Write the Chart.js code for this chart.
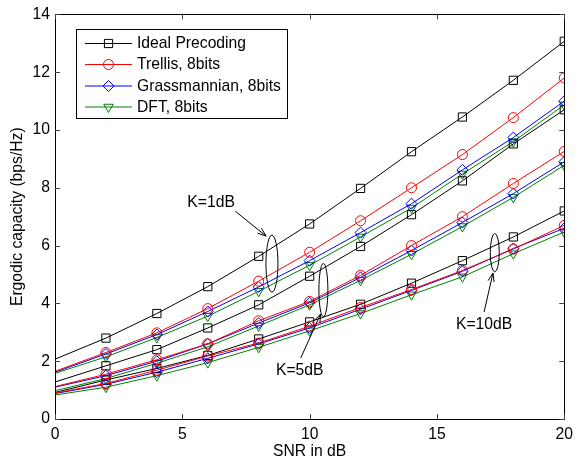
<!DOCTYPE html>
<html>
<head>
<meta charset="utf-8">
<script src="https://cdn.jsdelivr.net/npm/chart.js@4"></script>
<style>
  html, body { margin: 0; padding: 0; background: #fff; }
  #wrap { width: 579px; height: 461px; }
</style>
</head>
<body>
<div id="wrap"><canvas id="chart"></canvas></div>
<script>
const snr = [0, 2, 4, 6, 8, 10, 12, 14, 16, 18, 20];

// K = 1dB
const idealK1 = [2.07, 2.8, 3.65, 4.58, 5.63, 6.75, 7.98, 9.25, 10.45, 11.72, 13.07];
const trellisK1 = [1.65, 2.3, 2.98, 3.82, 4.77, 5.77, 6.86, 8.0, 9.15, 10.43, 11.8];
const grassK1 = [1.62, 2.25, 2.92, 3.72, 4.57, 5.48, 6.45, 7.45, 8.62, 9.74, 11.0];
const dftK1 = [1.58, 2.15, 2.82, 3.56, 4.42, 5.32, 6.3, 7.3, 8.48, 9.6, 10.87];
// K = 5dB
const idealK5 = [1.28, 1.84, 2.4, 3.15, 3.95, 4.94, 5.97, 7.07, 8.24, 9.52, 10.7];
const trellisK5 = [1.12, 1.55, 2.05, 2.6, 3.4, 4.07, 4.97, 6.0, 7.0, 8.15, 9.26];
const grassK5 = [1.1, 1.5, 2.0, 2.6, 3.32, 4.02, 4.9, 5.83, 6.8, 7.8, 8.9];
const dftK5 = [0.98, 1.4, 1.93, 2.5, 3.22, 3.95, 4.8, 5.7, 6.66, 7.67, 8.78];
// K = 10dB
const idealK10 = [0.92, 1.35, 1.75, 2.2, 2.77, 3.36, 3.97, 4.7, 5.48, 6.3, 7.2];
const trellisK10 = [0.9, 1.23, 1.69, 2.18, 2.63, 3.21, 3.86, 4.48, 5.14, 5.88, 6.7];
const grassK10 = [0.88, 1.2, 1.62, 2.1, 2.6, 3.15, 3.8, 4.45, 5.11, 5.9, 6.6];
const dftK10 = [0.83, 1.1, 1.5, 1.95, 2.48, 3.05, 3.65, 4.3, 4.92, 5.72, 6.47];

const xTicks = [0, 5, 10, 15, 20];
const yTicks = [0, 2, 4, 6, 8, 10, 12, 14];

const labels = ["Ideal Precoding", "Trellis, 8bits", "Grassmannian, 8bits", "DFT, 8bits"];
const FONT = "'Liberation Sans', Arial, Helvetica, sans-serif";
const FS = 15.7;

const styles = [
  { color: "#000000", pointStyle: "rect", radius: 5.8, rotation: 0 },
  { color: "#ff0000", pointStyle: "circle", radius: 5, rotation: 0 },
  { color: "#0000ff", pointStyle: "rectRot", radius: 5.5, rotation: 0 },
  { color: "#008000", pointStyle: "triangle", radius: 5.5, rotation: 180 },
];

const groups = [
  [idealK1, trellisK1, grassK1, dftK1],
  [idealK5, trellisK5, grassK5, dftK5],
  [idealK10, trellisK10, grassK10, dftK10],
];

const datasets = [];
groups.forEach((g) => {
  g.forEach((vals, i) => {
    const s = styles[i];
    datasets.push({
      label: labels[i],
      data: snr.map((x, j) => ({ x: x, y: vals[j] })),
      borderColor: s.color,
      backgroundColor: "rgba(0,0,0,0)",
      borderWidth: 1,
      pointStyle: s.pointStyle,
      pointRotation: s.rotation,
      pointBorderColor: s.color,
      pointBorderWidth: 1,
      pointRadius: (c) => (c.raw && c.raw.x === 0 ? 0 : s.radius),
      tension: 0,
      order: [2, 0, 1, 3][i],
    });
  });
});

// annotations in data units
const notes = [
  { text: "K=1dB", tx: 6.13, ty: 7.47, ax0: 7.08, ay0: 7.19, ax1: 8.29, ay1: 6.33, ex: 8.52, ey: 5.375, rx: 6, ry: 28.5 },
  { text: "K=5dB", tx: 9.61, ty: 1.66, ax0: 9.65, ay0: 2.11, ax1: 10.43, ay1: 3.63, ex: 10.54, ey: 4.46, rx: 4.5, ry: 26.7 },
  { text: "K=10dB", tx: 16.85, ty: 3.28, ax0: 16.85, ay0: 3.7, ax1: 17.2, ay1: 5.05, ex: 17.27, ey: 5.755, rx: 4.5, ry: 19.2 },
];

function arrow(ctx, x0, y0, x1, y1) {
  ctx.beginPath();
  ctx.moveTo(x0, y0);
  ctx.lineTo(x1, y1);
  const a = Math.atan2(y1 - y0, x1 - x0);
  const L = 9, w = 0.35;
  ctx.moveTo(x1 - L * Math.cos(a - w), y1 - L * Math.sin(a - w));
  ctx.lineTo(x1, y1);
  ctx.lineTo(x1 - L * Math.cos(a + w), y1 - L * Math.sin(a + w));
  ctx.stroke();
}

const decor = {
  id: "decor",
  afterDatasetsDraw(chart) {
    const { ctx, chartArea: ca, scales } = chart;
    const sx = scales.x, sy = scales.y;
    ctx.save();
    // frame
    ctx.strokeStyle = "#000";
    ctx.lineWidth = 1;
    ctx.strokeRect(Math.round(ca.left) + 0.5, Math.round(ca.top) + 0.5,
      Math.round(ca.right - ca.left), Math.round(ca.bottom - ca.top));
    // inward ticks
    ctx.strokeStyle = "#444";
    ctx.beginPath();
    xTicks.forEach((v) => {
      const p = Math.round(sx.getPixelForValue(v)) + 0.5;
      ctx.moveTo(p, ca.bottom); ctx.lineTo(p, ca.bottom - 5);
      ctx.moveTo(p, ca.top); ctx.lineTo(p, ca.top + 5);
    });
    yTicks.forEach((v) => {
      const p = Math.round(sy.getPixelForValue(v)) + 0.5;
      ctx.moveTo(ca.left, p); ctx.lineTo(ca.left + 5, p);
      ctx.moveTo(ca.right, p); ctx.lineTo(ca.right - 5, p);
    });
    ctx.stroke();

    // annotations
    ctx.strokeStyle = "#000";
    ctx.fillStyle = "#000";
    ctx.font = FS + "px " + FONT;
    ctx.textAlign = "center";
    ctx.textBaseline = "middle";
    notes.forEach((n) => {
      ctx.beginPath();
      ctx.ellipse(sx.getPixelForValue(n.ex), sy.getPixelForValue(n.ey), n.rx, n.ry, 0, 0, Math.PI * 2);
      ctx.stroke();
      arrow(ctx, sx.getPixelForValue(n.ax0), sy.getPixelForValue(n.ay0),
        sx.getPixelForValue(n.ax1), sy.getPixelForValue(n.ay1));
      ctx.fillText(n.text, sx.getPixelForValue(n.tx), sy.getPixelForValue(n.ty));
    });

    // legend
    const bx = 76, by = 29, bw = 211, bh = 89;
    ctx.fillStyle = "#fff";
    ctx.fillRect(bx, by, bw, bh);
    ctx.strokeStyle = "#000";
    ctx.strokeRect(bx + 0.5, by + 0.5, bw, bh);
    const rows = [43.5, 64.5, 86, 107];
    labels.forEach((lab, i) => {
      const s = styles[i];
      const y = rows[i];
      ctx.strokeStyle = s.color;
      ctx.lineWidth = 1;
      ctx.beginPath();
      ctx.moveTo(85, y); ctx.lineTo(132, y);
      ctx.stroke();
      ctx.fillStyle = "rgba(0,0,0,0)";
      ctx.strokeStyle = s.color;
      Chart.helpers.drawPoint(ctx, {
        pointStyle: s.pointStyle, radius: s.radius, rotation: s.rotation,
        borderWidth: 1,
      }, 108.5, y);
      ctx.fillStyle = "#000";
      ctx.textAlign = "left";
      ctx.fillText(lab, 137, y + 0.5);
    });
    ctx.restore();
  },
};

new Chart(document.getElementById("chart"), {
  type: "line",
  data: { datasets: datasets },
  options: {
    responsive: true,
    maintainAspectRatio: false,
    animation: false,
    layout: { padding: { top: 14, right: 10, left: 0, bottom: 0 } },
    plugins: { legend: { display: false }, tooltip: { enabled: false } },
    scales: {
      x: {
        type: "linear",
        min: 0,
        max: 20,
        afterFit: (s) => { s.height = 42; },
        afterBuildTicks: (s) => { s.ticks = xTicks.map((v) => ({ value: v })); },
        grid: { display: false, drawTicks: false },
        border: { display: false },
        ticks: { color: "#000", padding: 6, font: { family: FONT, size: FS } },
        title: { display: true, text: "SNR in dB", color: "#000", padding: 0, font: { family: FONT, size: FS } },
      },
      y: {
        type: "linear",
        min: 0,
        max: 14,
        afterFit: (s) => { s.width = 55; },
        afterBuildTicks: (s) => { s.ticks = yTicks.map((v) => ({ value: v })); },
        grid: { display: false, drawTicks: false },
        border: { display: false },
        ticks: { color: "#000", padding: 5, font: { family: FONT, size: FS } },
        title: { display: true, text: "Ergodic capacity (bps/Hz)", color: "#000", padding: { top: 8 }, font: { family: FONT, size: FS } },
      },
    },
  },
  plugins: [decor],
});
</script>
</body>
</html>
